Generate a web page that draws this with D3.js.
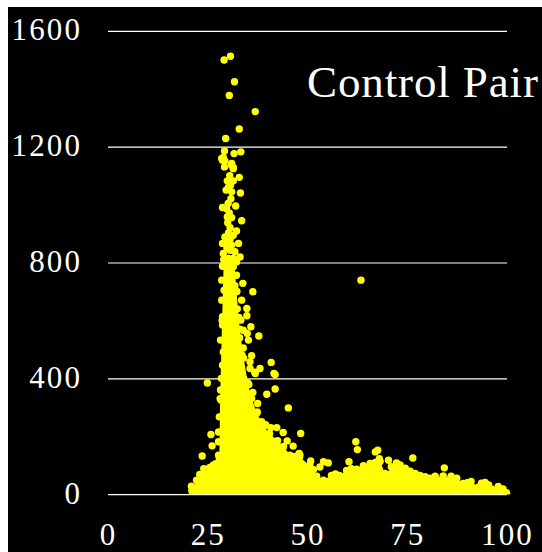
<!DOCTYPE html>
<html><head><meta charset="utf-8">
<script src="https://cdn.jsdelivr.net/npm/d3@7"></script>
<style>html,body{margin:0;padding:0;background:#fff}svg{display:block}
text{font-family:"Liberation Serif",serif;fill:#fff}</style></head>
<body><svg id="c" width="542" height="552"></svg>
<script>
const title = "Control Pair";
const xTicks = [0,25,50,75,100];
const yTicks = [0,400,800,1200,1600];
// saturated part of the cloud: upper outline
const massX   = [21.3,22.2,23,24,25.5,27,27.9,28.1,28.6,29,31.6,32.2,33,34,35,36,37.3,39,40.5,42.5,44,45.6,48,50.6,52.3,54,56,58,59.8,62.3,65.7,68.2,69.4,72.4,73.2,75.7,78.2,80.7,84,87.4,89,91,92.8,94.5,96.2,97.8,99.9];
const massTop = [22,48,68,88,92,105,125,330,600,810,810,700,570,470,385,330,280,235,210,185,165,135,128,100,62,48,65,65,82,86,106,113,72,99,101,79,65,55,63,55,37,44,24,41,17,27,5];
// individually visible points [x, y]
const peakPoints = [[29.1,1499],[30.7,1512],[31.7,1424],[30.4,1377],[36.9,1321],[32.9,1261],[29.5,1228],[33.3,1182],[31.6,1176],[29.2,1185],[28.9,1163],[29.3,1151],[28.5,1159],[29.2,1130],[31,1136],[31.4,1128],[28.7,1153],[31,1142],[31.4,1124],[32.9,1094],[29.9,1082],[31.4,1082],[30.7,1067],[29.6,1050],[31,1044],[33.2,1040],[30.1,1004],[28.7,990],[29.7,986],[32,995],[30.4,971],[29.9,957],[31,955],[33.5,944],[30,937],[32.2,909],[30.2,902],[31.4,894],[29.3,888],[30.2,877],[29.1,866],[32.7,866],[31,860],[28.7,866],[30.6,842],[31.8,837],[33.1,819],[28.9,831],[30.2,814],[31.4,814],[32.2,802],[28.7,787],[30.2,785],[31.4,785],[30.5,1100],[30.2,1060],[30.8,1020],[30.6,920],[29.8,850],[30.6,880]];
const columnEdge = [[28.9,791],[28.5,739],[29.1,704],[28.5,670],[28.7,613],[28.7,584],[28.2,532],[28.9,491],[28.7,445],[28.3,325],[27.9,267],[27.7,215],[27.7,181],[27.7,135],[28.4,400],[28.2,360],[32.2,756],[31.8,720],[32.3,700],[32.4,640],[32.8,610],[33,540],[33.6,480],[34,400]];
const shoulderPoints = [[33.8,728],[36.3,699],[33.5,670],[34.8,641],[34.8,616],[33.3,601],[35.8,578],[33.9,566],[34.9,555],[37.8,546],[35.2,532],[33.9,505],[36,478],[35.6,457],[40.9,455],[38.1,434],[35.6,434],[41.6,417],[36.8,421],[36.9,417],[41.9,413],[41.9,363],[39.8,345],[36.3,351],[45.2,298],[37.5,313],[35.3,379],[42.3,230],[40.8,230],[43.9,213],[48.3,210],[46.4,166],[44.9,184],[41.9,181],[47.9,141],[37.4,284],[38.5,250],[35.2,325],[33.9,357],[32.7,388],[39.5,240]];
const lowPoints = [[24.9,384],[25.8,206],[26.1,167],[23.6,132],[26.4,100],[21,12],[20.9,28]];
const tailPoints = [[62.1,181],[62.5,154],[67.6,152],[67,146],[63.4,739],[48.1,135],[50.8,115],[55.2,108],[54,112],[53.1,94],[60.4,112],[70.3,117],[68,123],[72.3,108],[76.4,125],[84.3,91],[46.8,130],[51.5,85],[57,70],[61,88],[64,98],[67,110],[71,95],[74.5,90],[77,72],[79.5,60],[82,62],[86,62],[90,40],[93.6,38],[95.4,32],[99,18]];
const W = 542, H = 552;
const svg = d3.select("#c");
svg.append("rect").attr("x",8).attr("y",7).attr("width",W-8).attr("height",H-7).attr("fill","#000");
const x = d3.scaleLinear().domain([0,100]).range([108,507]);
const y = d3.scaleLinear().domain([0,1600]).range([494.2,30.8]);

const yAxis = d3.axisLeft(y).tickValues(yTicks).tickFormat(d3.format("d")).tickSize(0).tickPadding(26);
const gy = svg.append("g").attr("transform","translate(108,0)").call(yAxis);
gy.select(".domain").remove();
gy.selectAll("text").style("font-size","31px").attr("letter-spacing","2.1").attr("dy","0.29em").attr("fill","#fff");
gy.selectAll(".tick").append("line").attr("x1",0).attr("x2",399).attr("y1",0).attr("y2",0).attr("stroke","#fff").attr("stroke-width",1.2);

const xAxis = d3.axisBottom(x).tickValues(xTicks).tickFormat(d3.format("d")).tickSize(0).tickPadding(0);
const gx = svg.append("g").attr("transform","translate(0,520)").call(xAxis);
gx.select(".domain").remove();
gx.selectAll("text").style("font-size","31px").attr("letter-spacing","2.1").attr("dy","0.8em").attr("fill","#fff");

svg.append("defs").append("clipPath").attr("id","clip").append("rect").attr("x",0).attr("y",0).attr("width",W).attr("height",y(0)+0.4);
const plot = svg.append("g").attr("clip-path","url(#clip)");
const massPts = massX.map((d,i)=>[d,massTop[i]]);
const area = d3.area().x(d=>x(d[0])).y0(y(0)).y1(d=>y(d[1]));
plot.append("path").datum(massPts).attr("d",area).attr("fill","#ffff00");
const all = [].concat(massPts,peakPoints,columnEdge,shoulderPoints,lowPoints,tailPoints);
plot.selectAll("circle").data(all).join("circle")
  .attr("cx",d=>x(d[0])).attr("cy",d=>y(d[1])).attr("r",3.7).attr("fill","#ffff00");

svg.append("text").attr("x",307).attr("y",97).attr("textLength",231).attr("lengthAdjust","spacing")
  .style("font-size","45px").text(title);
</script></body></html>
